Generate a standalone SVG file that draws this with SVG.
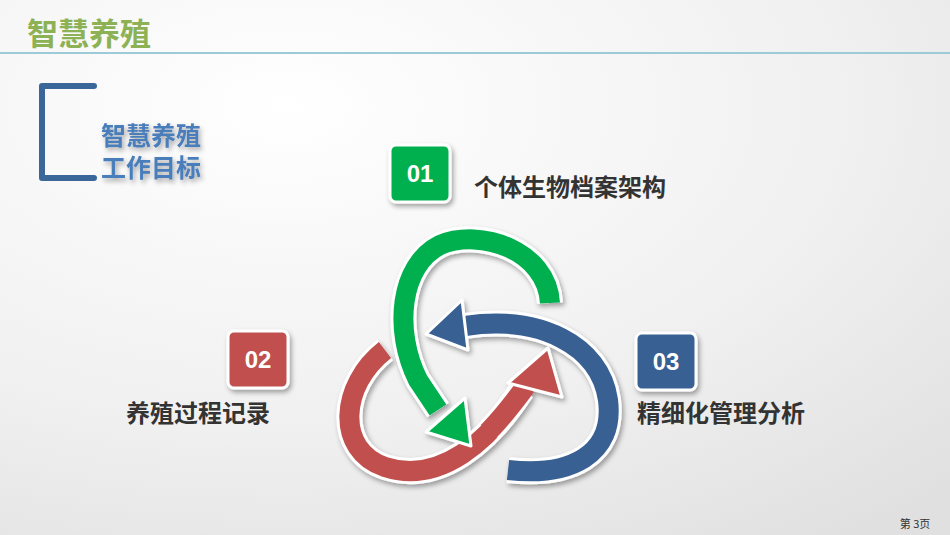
<svg xmlns="http://www.w3.org/2000/svg" width="950" height="535" viewBox="0 0 950 535">
<defs>
<radialGradient id="bg" cx="0.3" cy="0.2" r="1"><stop offset="0" stop-color="#ffffff"/><stop offset="0.6" stop-color="#f0f0f0"/><stop offset="1" stop-color="#e0e0e0"/></radialGradient>
<filter id="sh" x="-20%" y="-20%" width="140%" height="140%"><feDropShadow dx="2" dy="3" stdDeviation="2.5" flood-opacity="0.35"/></filter>
</defs>
<style>
.t{font-family:"Noto Sans CJK SC","Liberation Sans",sans-serif;font-weight:bold}
.box{stroke:#fff;stroke-width:3;filter:url(#sh)}
.num{font-family:"Liberation Sans",sans-serif;font-weight:bold;font-size:24px;fill:#fff;text-anchor:middle}
.lbl{font-family:"Noto Sans CJK SC",sans-serif;font-weight:bold;font-size:24px;fill:#333}
.o{fill:none;stroke:#fff;stroke-width:26}
.s{fill:none;stroke-width:20}
</style>
<rect width="950" height="535" fill="url(#bg)"/>
<text x="27" y="45" class="t" font-size="31" fill="#8db255">智慧养殖</text>
<line x1="0" y1="53" x2="950" y2="53" stroke="#9ccad6" stroke-width="2"/>
<g id="bracket"><path d="M94,86 H42 V178 H94" fill="none" stroke="#3a6699" stroke-width="6" stroke-linejoin="round" stroke-linecap="round"/></g>
<g id="subtitle" class="t" font-size="25" fill="#4a7ebb" filter="url(#sh)"><text x="101" y="145">智慧养殖</text><text x="101" y="177">工作目标</text></g>
<g id="connectors" filter="url(#sh)">
<g id="red">
<path class="o" d="M385,350 C340,385 335,450 385,467 C440,485 490,440 520,392"/>
<path class="s" stroke="#c0504d" d="M385,350 C340,385 335,450 385,467 C440,485 490,440 520,392"/>
</g>
<g id="green">
<path class="o" d="M550,303 C547,250 480,228 440,245 C400,265 393,330 418,380 L438,410"/>
<path class="s" stroke="#00b050" d="M550,303 C547,250 480,228 440,245 C400,265 393,330 418,380 L438,410"/>
<polygon points="426,432 465,398 471,446" fill="#00b050" stroke="#fff" stroke-width="3" stroke-linejoin="round"/>
</g>
<g id="blue">
<path class="o" d="M465,326 C540,315 600,345 608,400 C615,455 570,477 508,470"/>
<path class="s" stroke="#376092" d="M465,326 C540,315 600,345 608,400 C615,455 570,477 508,470"/>
<polygon points="426,334 462,300 468,350" fill="#376092" stroke="#fff" stroke-width="3" stroke-linejoin="round"/>
</g>
<g id="redhead">
<path class="o" d="M490,430 C502,418 512,405 522,390"/>
<path class="s" stroke="#c0504d" d="M488,432 C502,418 512,405 526,386"/>
<polygon points="548,348 508,383 562,397" fill="#c0504d" stroke="#fff" stroke-width="3" stroke-linejoin="round"/>
</g>
</g>
<g id="n01"><rect class="box" x="390" y="145" width="60" height="57" rx="6" fill="#00b050"/><text class="num" x="420" y="182">01</text><text class="lbl" x="474" y="196">个体生物档案架构</text></g>
<g id="n02"><rect class="box" x="228" y="331" width="60" height="57" rx="6" fill="#c0504d"/><text class="num" x="258" y="368">02</text><text class="lbl" x="126" y="422">养殖过程记录</text></g>
<g id="n03"><rect class="box" x="636" y="333" width="60" height="57" rx="6" fill="#376092"/><text class="num" x="666" y="370">03</text><text class="lbl" x="637" y="422">精细化管理分析</text></g>
<text x="915" y="528" font-family="Noto Sans CJK SC,sans-serif" font-size="11" fill="#333" text-anchor="middle">第 3页</text>
</svg>
